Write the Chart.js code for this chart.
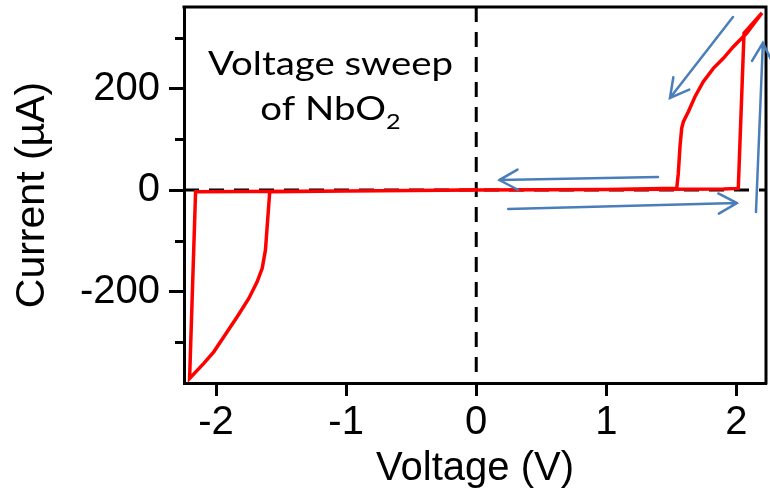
<!DOCTYPE html>
<html>
<head>
<meta charset="utf-8">
<title>Voltage sweep of NbO2</title>
<script src="https://cdn.jsdelivr.net/npm/chart.js@4.4.1/dist/chart.umd.min.js"></script>
<style>
  html, body { margin: 0; padding: 0; background: #fff; }
  #wrap { width: 770px; height: 491px; }
</style>
</head>
<body>
<div id="wrap"><canvas id="ivChart" width="770" height="491"></canvas></div>
<script>
// I-V loop of an NbO2 device

// sweep: 0 -> +2.2 V -> back to 0 -> -2.2 V -> back to 0
var sweepV = [0, 1.0, 1.9, 2.014, 2.058, 2.196,
              2.078, 1.976, 1.899, 1.822, 1.745, 1.681, 1.630, 1.592, 1.579, 1.566, 1.553, 1.541,
              1.0, 0, -1.0, -2.157, -2.203,
              -2.094, -2.017, -1.914, -1.837, -1.748, -1.684, -1.645, -1.620, -1.607, -1.587,
              -1.0, 0];
var sweepI = [0, 1, 2, 3.3, 308.7, 349,
              308.7, 282.4, 259.4, 239.7, 213.5, 183.9, 154.3, 134.6, 121.5, 85.4, 32.8, 3.3,
              1, 0, -2, -3.3, -371,
              -341.5, -318.6, -279.2, -249.6, -213.5, -180.6, -154.3, -118.2, -72.3, -3.3,
              -2, 0];

var xTicks = [-2, -1, 0, 1, 2];
var yTicks = [-200, 0, 200];
var yMinorTicks = [-300, -100, 100, 300];
var xRange = [-2.246, 2.227];
var yRange = [-380, 360.5];

// blue direction arrows, in volts / microamps
var arrowTail = [[1.973, 340.9], [1.397, 25.6], [0.246, -37.4], [2.150, -43.3]];
var arrowHead = [[1.489, 181.3], [0.177, 19.7], [2.004, -25.6], [2.203, 289.7]];

var noteLines = ['Voltage sweep', 'of NbO'];
var noteAt = [[-1.12, 226.6], [-1.12, 138]];

var points = sweepV.map(function (v, i) { return { x: v, y: sweepI[i] }; });

var axisFont = { family: "'Liberation Sans', Arial, sans-serif", size: 40 };

function drawArrow(ctx, x1, y1, x2, y2) {
    var ang = Math.atan2(y2 - y1, x2 - x1);
    var len = 21, spread = 0.5;
    ctx.beginPath();
    ctx.moveTo(x1, y1);
    ctx.lineTo(x2, y2);
    ctx.moveTo(x2 - len * Math.cos(ang - spread), y2 - len * Math.sin(ang - spread));
    ctx.lineTo(x2, y2);
    ctx.lineTo(x2 - len * Math.cos(ang + spread), y2 - len * Math.sin(ang + spread));
    ctx.stroke();
}

var extras = {
    id: 'extras',
    afterDatasetsDraw: function (chart) {
        var ctx = chart.ctx, sx = chart.scales.x, sy = chart.scales.y, a = chart.chartArea;
        ctx.save();

        // top and right frame
        ctx.strokeStyle = '#000';
        ctx.lineWidth = 3;
        ctx.beginPath();
        ctx.moveTo(a.left - 1.5, a.top);
        ctx.lineTo(a.right, a.top);
        ctx.lineTo(a.right, a.bottom + 1.5);
        ctx.stroke();

        // minor ticks on the current axis
        ctx.beginPath();
        yMinorTicks.forEach(function (v) {
            var py = Math.round(sy.getPixelForValue(v)) + 0.5;
            ctx.moveTo(a.left, py);
            ctx.lineTo(a.left - 9, py);
        });
        ctx.stroke();

        // sweep direction arrows
        ctx.strokeStyle = '#4a7ebb';
        ctx.lineWidth = 2.5;
        ctx.lineCap = 'round';
        arrowTail.forEach(function (t, i) {
            var h = arrowHead[i];
            drawArrow(ctx, sx.getPixelForValue(t[0]), sy.getPixelForValue(t[1]),
                      sx.getPixelForValue(h[0]), sy.getPixelForValue(h[1]));
        });

        // note text, stretched a little like the original
        ctx.fillStyle = '#000';
        ctx.textBaseline = 'alphabetic';
        ctx.textAlign = 'left';
        var stretch = 1.2;
        ctx.font = '32px Lato';
        var cx = sx.getPixelForValue(noteAt[0][0]);
        var w1 = ctx.measureText(noteLines[0]).width * stretch;
        ctx.save();
        ctx.translate(cx - w1 / 2, sy.getPixelForValue(noteAt[0][1]));
        ctx.scale(stretch, 1);
        ctx.fillText(noteLines[0], 0, 0);
        ctx.restore();

        var w2 = ctx.measureText(noteLines[1]).width;
        ctx.font = '21px Lato';
        var w3 = ctx.measureText('2').width;
        var total = (w2 + w3) * stretch;
        ctx.save();
        ctx.translate(cx - total / 2, sy.getPixelForValue(noteAt[1][1]));
        ctx.scale(stretch, 1);
        ctx.font = '32px Lato';
        ctx.fillText(noteLines[1], 0, 0);
        ctx.font = '21px Lato';
        ctx.fillText('2', w2, 9);
        ctx.restore();

        ctx.restore();
    }
};

new Chart(document.getElementById('ivChart'), {
    type: 'scatter',
    data: {
        datasets: [{
            data: points,
            showLine: true,
            borderColor: '#ff0000',
            borderWidth: 3.5,
            pointRadius: 0,
            tension: 0
        }, {
            // dashed zero line, voltage
            data: [{ x: 0, y: yRange[1] }, { x: 0, y: yRange[0] }],
            showLine: true,
            borderColor: '#000',
            borderWidth: 3,
            borderDash: [15, 10],
            pointRadius: 0
        }, {
            // dashed zero line, current
            data: [{ x: xRange[0], y: 0 }, { x: xRange[1], y: 0 }],
            showLine: true,
            borderColor: '#000',
            borderWidth: 3,
            borderDash: [15, 10],
            pointRadius: 0
        }]
    },
    options: {
        responsive: false,
        animation: false,
        layout: { padding: { top: 7, right: 4, left: 0, bottom: 0 } },
        plugins: { legend: { display: false }, tooltip: { enabled: false } },
        scales: {
            x: {
                type: 'linear',
                min: xRange[0],
                max: xRange[1],
                afterFit: function (s) { s.height = 108; s.paddingLeft = 0; s.paddingRight = 0; },
                afterBuildTicks: function (s) { s.ticks = xTicks.map(function (v) { return { value: v }; }); },
                ticks: { font: axisFont, color: '#000', padding: 3, maxRotation: 0 },
                grid: { drawOnChartArea: false, tickLength: 13, tickColor: '#000', tickWidth: 3 },
                border: { display: true, color: '#000', width: 3 },
                title: { display: true, text: 'Voltage (V)', color: '#000',
                         font: { family: axisFont.family, size: 40, lineHeight: 1 },
                         padding: { top: 0, bottom: 2 } }
            },
            y: {
                type: 'linear',
                min: yRange[0],
                max: yRange[1],
                afterFit: function (s) { s.width = 184; s.paddingTop = 0; s.paddingBottom = 0; },
                afterBuildTicks: function (s) { s.ticks = yTicks.map(function (v) { return { value: v }; }); },
                ticks: { font: axisFont, color: '#000', padding: 9 },
                grid: { drawOnChartArea: false, tickLength: 15, tickColor: '#000', tickWidth: 3 },
                border: { display: true, color: '#000', width: 3 },
                title: { display: true, text: 'Current (µA)', color: '#000',
                         font: { family: axisFont.family, size: 41, lineHeight: 1 },
                         padding: { top: 12, bottom: 0 } }
            }
        }
    },
    plugins: [extras]
});
</script>
</body>
</html>
